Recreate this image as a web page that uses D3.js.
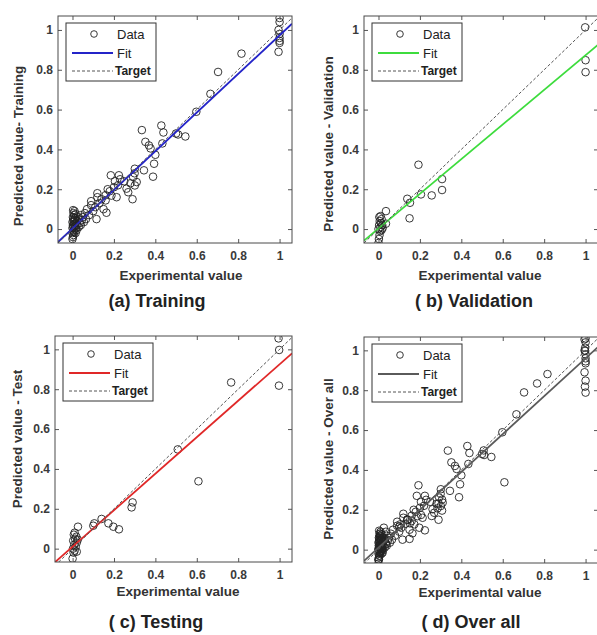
<!DOCTYPE html>
<html>
<head>
<meta charset="utf-8">
<script src="https://cdn.jsdelivr.net/npm/d3@7"></script>
<style>
  body { margin: 0; background: #fff; }
  svg { display: block; font-family: "Liberation Sans", Arial, sans-serif; }
</style>
</head>
<body>
<svg width="597" height="635"></svg>
<script>
// values: [experimental, predicted]
let trainingData = [
  [0,-0.05],[0.002,-0.04],[0.005,-0.03],[0,-0.02],[0.008,-0.015],[0.003,-0.01],[0.01,0],[0,0.005],
  [0.005,0.01],[0.012,0.015],[0.002,0.02],[0.008,0.025],[0.015,0.03],[0,0.035],[0.006,0.04],[0.01,0.045],
  [0.004,0.05],[0.012,0.055],[0.002,0.06],[0.008,0.07],[0.015,0.075],[0.005,0.08],[0.01,0.09],[0.003,0.095],
  [0.018,0.005],[0.02,0.02],[0.022,0.04],[0.025,0.06],[0.02,-0.005],[0.015,-0.02],[0.03,0.01],[0.035,0.03],
  [0.03,0.05],[0.04,0.02],[0.04,0.07],[0.045,0.045],[0.05,0.06],[0.055,0.035],[0.06,0.08],[0.065,0.05],
  [0.07,0.1],[0.08,0.07],[0.09,0.12],[0.09,0.14],[0.1,0.09],[0.11,0.11],[0.116,0.05],[0.12,0.16],
  [0.12,0.18],[0.13,0.13],[0.14,0.15],[0.15,0.1],[0.16,0.144],[0.164,0.082],[0.16,0.17],[0.17,0.2],
  [0.18,0.19],[0.185,0.27],[0.188,0.168],[0.2,0.21],[0.205,0.24],[0.213,0.16],[0.22,0.22],[0.224,0.27],
  [0.23,0.25],[0.25,0.24],[0.261,0.203],[0.269,0.185],[0.28,0.23],[0.29,0.15],[0.293,0.261],[0.3,0.28],
  [0.301,0.303],[0.31,0.236],[0.301,0.219],[0.345,0.295],[0.335,0.497],[0.352,0.438],[0.369,0.42],
  [0.377,0.405],[0.4,0.373],[0.394,0.328],[0.389,0.263],[0.434,0.43],[0.429,0.52],[0.439,0.485],
  [0.5,0.48],[0.51,0.475],[0.545,0.465],[0.598,0.589],[0.666,0.679],[0.703,0.789],[0.816,0.881],
  [1,1.06],[1,1.04],[0.995,1.0],[1,0.98],[1,0.96],[1,0.945],[1,0.935],[0.995,0.89]
]
let validationData = [
  [0.998,1.013],[1,0.848],[1,0.788],[0.193,0.323],[0.307,0.251],[0.307,0.196],[0.257,0.169],
  [0.205,0.174],[0.139,0.152],[0.152,0.132],[0.15,0.054],[0.036,0.09],[0.036,0.027],
  [0,-0.07],[0.002,-0.05],[0.005,-0.03],[0.008,-0.01],[0,0],[0.01,0.01],[0.003,0.02],[0.012,0.03],
  [0.006,0.04],[0.015,0.05],[0.004,0.06],[0.01,0.065],[0.018,0.02],[0.02,0.005],[0.015,-0.005]
]
let testData = [
  [0.995,1.055],[0.998,0.997],[0.997,0.818],[0.766,0.834],[0.508,0.498],[0.608,0.338],[0.29,0.232],
  [0.285,0.207],[0.224,0.097],[0.197,0.11],[0.173,0.127],[0.14,0.149],[0.105,0.127],[0.1,0.115],
  [0.026,0.11],[0,-0.05],[0.005,-0.02],[0.01,-0.01],[0.002,0],[0.015,0.01],[0.008,0.02],[0.02,0.03],
  [0.003,0.04],[0.012,0.05],[0.018,0.06],[0.006,0.07],[0.01,0.08],[0.025,0.045],[0.02,-0.015]
]
let overallData = trainingData.concat(validationData, testData)

// fit lines: [slope, intercept]
let fitTraining = [0.97, 0.003]
let fitValidation = [0.87, 0.003]
let fitTest = [0.915, 0.01]
let fitOverall = [0.95, 0.01]

let tickValues = [0, 0.2, 0.4, 0.6, 0.8, 1]
let tickLabels = ['0', '0.2', '0.4', '0.6', '0.8', '1']
let legendLabels = ['Data', 'Fit', 'Target']
let titles = ['(a) Training', '( b) Validation', '( c) Testing', '( d) Over all']
let yLabels = ['Predicted value- Training', 'Predicted value - Validation', 'Predicted value - Test', 'Predicted value - Over all']
let xLabel = 'Experimental value'

let panels = [
  {data: trainingData, fit: fitTraining, color: '#2424c8', left: 58, top: 16, w: 234, h: 227,
   xd: [-0.07, 1.06], yd: [-0.07, 1.07], title: [157, 307], xl: [181, 280], yl: [23, 146]},
  {data: validationData, fit: fitValidation, color: '#3ddc3d', left: 364, top: 16, w: 234, h: 227,
   xd: [-0.07, 1.06], yd: [-0.07, 1.07], title: [474, 307], xl: [480, 280], yl: [333, 144]},
  {data: testData, fit: fitTest, color: '#e02828', left: 55, top: 336, w: 237, h: 226,
   xd: [-0.085, 1.06], yd: [-0.067, 1.067], title: [156, 628], xl: [178, 596], yl: [22, 439]},
  {data: overallData, fit: fitOverall, color: '#5a5a5a', left: 364, top: 337, w: 234, h: 226,
   xd: [-0.07, 1.06], yd: [-0.067, 1.067], title: [471, 628], xl: [480, 597], yl: [333, 459]}
]

let svg = d3.select('svg')

function drawPanel(p, i) {
  let x = d3.scaleLinear().domain(p.xd).range([0, p.w])
  let y = d3.scaleLinear().domain(p.yd).range([p.h, 0])
  let g = svg.append('g').attr('transform', 'translate(' + p.left + ',' + p.top + ')')

  g.append('clipPath').attr('id', 'clip' + i)
    .append('rect').attr('width', p.w).attr('height', p.h)

  let plot = g.append('g').attr('clip-path', 'url(#clip' + i + ')')

  plot.selectAll('circle')
    .data(p.data)
    .join('circle')
    .attr('cx', function (d) {return x(d[0])})
    .attr('cy', function (d) {return y(d[1])})
    .attr('r', 3.8)
    .attr('fill', 'none')
    .attr('stroke', '#222')
    .attr('stroke-width', 0.9)

  let ends = [p.xd[0], p.xd[1]]
  plot.append('line')
    .attr('x1', x(ends[0])).attr('y1', y(p.fit[0] * ends[0] + p.fit[1]))
    .attr('x2', x(ends[1])).attr('y2', y(p.fit[0] * ends[1] + p.fit[1]))
    .attr('stroke', p.color)
    .attr('stroke-width', 1.8)

  plot.append('line')
    .attr('x1', x(ends[0])).attr('y1', y(ends[0]))
    .attr('x2', x(ends[1])).attr('y2', y(ends[1]))
    .attr('stroke', '#555')
    .attr('stroke-width', 1)
    .attr('stroke-dasharray', '3,2')

  // axes, ticks inward on all four sides
  let xAxis = g.append('g').attr('transform', 'translate(0,' + p.h + ')')
    .call(d3.axisBottom(x).tickValues(tickValues).tickSize(-4).tickPadding(8)
      .tickFormat(function (d, k) {return tickLabels[k]}))
  let yAxis = g.append('g')
    .call(d3.axisLeft(y).tickValues(tickValues).tickSize(-4).tickPadding(5)
      .tickFormat(function (d, k) {return tickLabels[k]}))
  let topAxis = g.append('g')
    .call(d3.axisTop(x).tickValues(tickValues).tickSize(-4).tickFormat(''))
  let rightAxis = g.append('g').attr('transform', 'translate(' + p.w + ',0)')
    .call(d3.axisRight(y).tickValues(tickValues).tickSize(-4).tickFormat(''))

  ;[xAxis, yAxis, topAxis, rightAxis].forEach(function (a) {
    a.select('.domain').remove()
    a.selectAll('line').attr('stroke', '#555')
    a.selectAll('text')
      .attr('fill', '#3a3a3a')
      .style('font-size', '12px')
      .style('font-weight', 'bold')
      .style('font-family', '"Liberation Sans", Arial, sans-serif')
  })

  g.append('rect')
    .attr('width', p.w).attr('height', p.h)
    .attr('fill', 'none')
    .attr('stroke', '#4a4a4a')
    .attr('stroke-width', 1)

  // legend
  let lg = g.append('g').attr('transform', 'translate(8,7)')
  lg.append('rect')
    .attr('width', 90).attr('height', 58)
    .attr('fill', '#fff')
    .attr('stroke', '#333')
    .attr('stroke-width', 1)
  lg.append('circle')
    .attr('cx', 28).attr('cy', 11).attr('r', 3.3)
    .attr('fill', 'none').attr('stroke', '#222').attr('stroke-width', 0.9)
  lg.append('line')
    .attr('x1', 6).attr('x2', 47).attr('y1', 30).attr('y2', 30)
    .attr('stroke', p.color).attr('stroke-width', 1.8)
  lg.append('line')
    .attr('x1', 6).attr('x2', 47).attr('y1', 48).attr('y2', 48)
    .attr('stroke', '#555').attr('stroke-width', 1).attr('stroke-dasharray', '3,2')
  lg.selectAll('text')
    .data(legendLabels)
    .join('text')
    .attr('x', function (d, k) {return k == 2 ? 49 : 51})
    .attr('y', function (d, k) {return [11, 30, 48][k]})
    .attr('dy', '0.35em')
    .attr('fill', '#222')
    .style('font-size', function (d, k) {return k == 2 ? '12px' : '13px'})
    .style('font-weight', function (d, k) {return k == 2 ? 'bold' : 'normal'})
    .text(function (d) {return d})

  svg.append('text')
    .attr('x', p.xl[0]).attr('y', p.xl[1])
    .attr('text-anchor', 'middle')
    .attr('fill', '#333')
    .style('font-size', '13.5px').style('font-weight', 'bold')
    .text(xLabel)

  svg.append('text')
    .attr('transform', 'translate(' + p.yl[0] + ',' + p.yl[1] + ') rotate(-90)')
    .attr('text-anchor', 'middle')
    .attr('fill', '#333')
    .style('font-size', '13.5px').style('font-weight', 'bold')
    .text(yLabels[i])

  svg.append('text')
    .attr('x', p.title[0]).attr('y', p.title[1])
    .attr('text-anchor', 'middle')
    .attr('fill', '#222')
    .style('font-size', '18px').style('font-weight', 'bold')
    .text(titles[i])
}

panels.forEach(drawPanel)
</script>
</body>
</html>
